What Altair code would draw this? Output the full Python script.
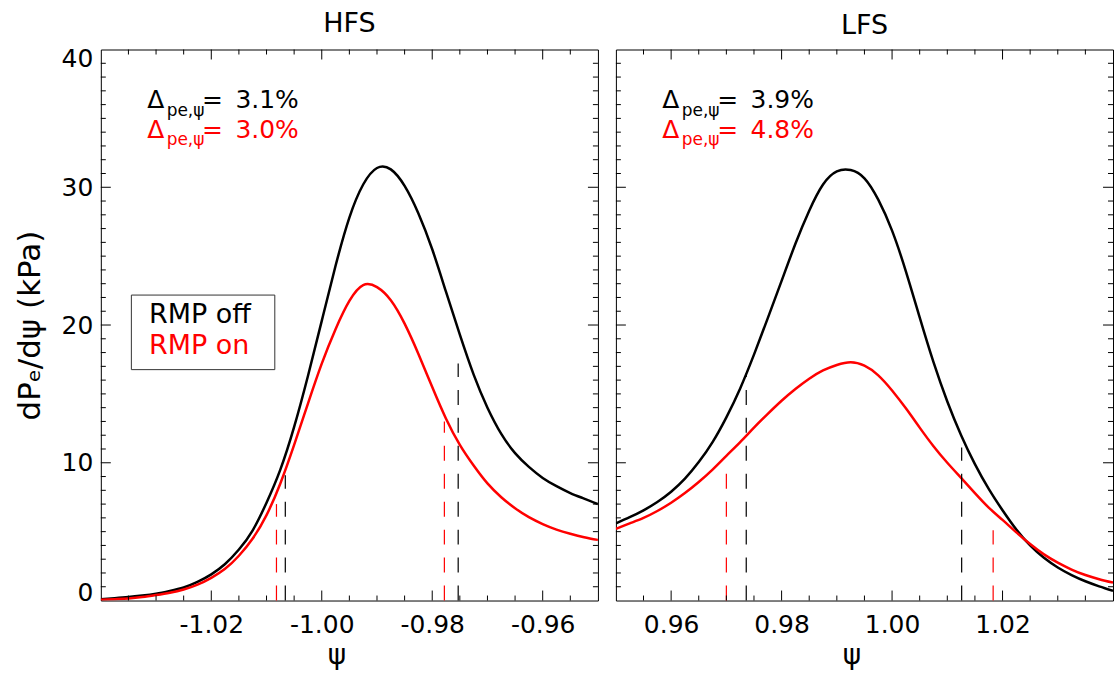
import altair as alt
import pandas as pd

# ---------------- data ----------------
hfs_x = [-1.0400, -1.0375, -1.0350, -1.0325, -1.0300, -1.0275, -1.0250, -1.0225, -1.0200,
         -1.0175, -1.0150, -1.0125, -1.0100, -1.0075, -1.0050, -1.0025, -1.0000, -0.9975,
         -0.9950, -0.9925, -0.9900, -0.9875, -0.9850, -0.9825, -0.9800, -0.9775, -0.9750,
         -0.9725, -0.9700, -0.9675, -0.9650, -0.9625, -0.9600, -0.9575, -0.9550, -0.9525,
         -0.9500]
hfs_off = [0.10, 0.17, 0.25, 0.36, 0.50, 0.70, 0.95, 1.35, 1.90,
           2.65, 3.70, 5.10, 7.10, 9.50, 12.60, 16.30, 20.30, 24.30,
           27.80, 30.20, 31.40, 31.30, 30.10, 28.10, 25.50, 22.40, 19.30,
           16.40, 14.00, 12.10, 10.70, 9.70, 8.90, 8.30, 7.80, 7.40,
           7.00]
hfs_on = [0.05, 0.10, 0.15, 0.25, 0.40, 0.57, 0.80, 1.15, 1.65,
          2.30, 3.25, 4.50, 6.20, 8.50, 11.30, 14.30, 17.20, 19.70,
          21.75, 22.90, 22.75, 21.80, 20.10, 17.90, 15.50, 13.20, 11.30,
          9.80, 8.50, 7.50, 6.70, 6.05, 5.55, 5.15, 4.85, 4.60,
          4.40]

lfs_x = [0.9500, 0.9525, 0.9550, 0.9575, 0.9600, 0.9625, 0.9650, 0.9675, 0.9700,
         0.9725, 0.9750, 0.9775, 0.9800, 0.9825, 0.9850, 0.9875, 0.9900, 0.9925,
         0.9950, 0.9975, 1.0000, 1.0025, 1.0050, 1.0075, 1.0100, 1.0125, 1.0150,
         1.0175, 1.0200, 1.0225, 1.0250, 1.0275, 1.0300, 1.0325, 1.0350, 1.0375,
         1.0400]
lfs_off = [5.60, 6.05, 6.55, 7.15, 7.90, 8.85, 10.05, 11.50, 13.30,
           15.40, 17.85, 20.50, 23.20, 25.90, 28.30, 30.20, 31.15, 31.25,
           30.65, 29.10, 26.85, 23.90, 20.55, 17.30, 14.45, 12.00, 9.90,
           8.10, 6.55, 5.15, 4.00, 3.10, 2.40, 1.85, 1.40, 1.03,
           0.70]
lfs_on = [5.20, 5.60, 6.00, 6.50, 7.10, 7.80, 8.60, 9.50, 10.50,
          11.50, 12.55, 13.55, 14.50, 15.35, 16.10, 16.70, 17.10, 17.30,
          17.05, 16.35, 15.25, 13.95, 12.55, 11.20, 10.00, 8.90, 7.80,
          6.75, 5.85, 4.95, 4.10, 3.35, 2.75, 2.25, 1.85, 1.55,
          1.30]

# dashed pedestal-width markers: position, height, series
hfs_dash_x = [-1.0082, -1.0066, -0.9778, -0.9753]
hfs_dash_top = [7.0, 9.1, 13.0, 17.2]
hfs_dash_series = ["on", "off", "on", "off"]
lfs_dash_x = [0.9700, 0.9736, 1.0126, 1.0183]
lfs_dash_top = [9.2, 16.5, 11.1, 5.1]
lfs_dash_series = ["on", "off", "off", "on"]

hfs_delta = ["3.1%", "3.0%"]
lfs_delta = ["3.9%", "4.8%"]

hfs_xticks = [-1.02, -1.00, -0.98, -0.96]
hfs_xminor = [-1.035, -1.030, -1.025, -1.015, -1.010, -1.005, -0.995, -0.990,
              -0.985, -0.975, -0.970, -0.965, -0.955]
lfs_xticks = [0.96, 0.98, 1.00, 1.02]
lfs_xminor = [0.955, 0.965, 0.970, 0.975, 0.985, 0.990, 0.995, 1.005, 1.010,
              1.015, 1.025, 1.030, 1.035]
y_ticks = [0, 10, 20, 30, 40]
y_inner_major = [10, 20, 30]
y_minor = [1, 2, 3, 4, 5, 6, 7, 8, 9, 11, 12, 13, 14, 15, 16, 17, 18, 19,
           21, 22, 23, 24, 25, 26, 27, 28, 29, 31, 32, 33, 34, 35, 36, 37, 38, 39]

# ---------------- styling ----------------
W, H = 498, 552
FONT = "DejaVu Sans"
COL = {"off": "#000000", "on": "#ff0000"}
MAJ, MIN = 10, 5


def panel(xs, off, on, xdom, xmajors, xminors, dash_x, dash_top, dash_series,
          deltas, title, left):
    df = pd.DataFrame({"psi": xs, "off": off, "on": on})
    xsc = alt.Scale(domain=xdom, nice=False, zero=False)
    ysc = alt.Scale(domain=[0, 40], nice=False, zero=False)

    x_lab = alt.Axis(orient="bottom", values=xmajors, ticks=False, domain=False,
                     grid=False,
                     labelExpr="(datum.value < 0 ? '-' : '') + format(abs(datum.value), '.2f')",
                     labelFont=FONT, labelFontSize=25, labelColor="black",
                     labelPadding=12, labelFlush=False,
                     title="ψ", titleFont=FONT, titleFontSize=28,
                     titleFontWeight="normal", titleColor="black",
                     titlePadding=4, titleX=236)
    if left:
        y_lab = alt.Axis(orient="left", values=y_ticks, ticks=False, domain=False,
                         grid=False, labelFont=FONT, labelFontSize=25,
                         labelColor="black", labelPadding=8,
                         labelOffset={"condition": [
                             {"test": "datum.value == 40", "value": 9},
                             {"test": "datum.value == 0", "value": -8}], "value": 0},
                         title="dPₑ/dψ (kPa)", titleFont=FONT, titleFontSize=31,
                         titleFontWeight="normal", titleColor="black",
                         titlePadding=15)
    else:
        y_lab = None

    black = alt.Chart(df).mark_line(color=COL["off"], strokeWidth=2.5,
                                    interpolate="natural", clip=True).encode(
        x=alt.X("psi:Q", scale=xsc, axis=x_lab),
        y=alt.Y("off:Q", scale=ysc, axis=y_lab),
    )
    red = alt.Chart(df).mark_line(color=COL["on"], strokeWidth=2.5,
                                  interpolate="natural", clip=True).encode(
        x=alt.X("psi:Q", scale=xsc, axis=None),
        y=alt.Y("on:Q", scale=ysc, axis=None),
    )

    # inward ticks on all four sides, placed through the scales
    def xt(vals, length):
        d = pd.DataFrame({"t": vals})
        bot = alt.Chart(d).mark_rule(color="black", strokeWidth=1).encode(
            x=alt.X("t:Q", scale=xsc, axis=None),
            y=alt.value(H), y2=alt.value(H - length))
        top = alt.Chart(d).mark_rule(color="black", strokeWidth=1).encode(
            x=alt.X("t:Q", scale=xsc, axis=None),
            y=alt.value(0), y2=alt.value(length))
        return [bot, top]

    def yt(vals, length):
        d = pd.DataFrame({"t": vals})
        lft = alt.Chart(d).mark_rule(color="black", strokeWidth=1).encode(
            y=alt.Y("t:Q", scale=ysc, axis=None),
            x=alt.value(0), x2=alt.value(length))
        rgt = alt.Chart(d).mark_rule(color="black", strokeWidth=1).encode(
            y=alt.Y("t:Q", scale=ysc, axis=None),
            x=alt.value(W), x2=alt.value(W - length))
        return [lft, rgt]

    ticks = xt(xmajors, MAJ) + xt(xminors, MIN) + yt(y_inner_major, MAJ) + yt(y_minor, MIN)

    ddf = pd.DataFrame({"psi": dash_x, "top": dash_top,
                        "base": [0] * len(dash_x),
                        "col": [COL[s] for s in dash_series]})
    dashes = alt.Chart(ddf).mark_rule(strokeDash=[15, 13], strokeWidth=1.2).encode(
        x=alt.X("psi:Q", scale=xsc, axis=None),
        y=alt.Y("base:Q", scale=ysc, axis=None),
        y2="top:Q",
        color=alt.Color("col:N", scale=None),
    )

    # annotation  Δ_{pe,ψ}=  value   (anchored in data coordinates)
    ax = xdom[0] + 0.0084
    adf = pd.DataFrame({"psi": [ax, ax], "y": [35.72, 33.6], "val": deltas,
                        "col": [COL["off"], COL["on"]]})
    abase = alt.Chart(adf).encode(
        x=alt.X("psi:Q", scale=xsc, axis=None),
        y=alt.Y("y:Q", scale=ysc, axis=None),
        color=alt.Color("col:N", scale=None))
    common = dict(align="left", baseline="alphabetic", font=FONT)
    d1 = abase.mark_text(text="Δ", fontSize=25, **common)
    d2 = abase.mark_text(text="pe,ψ", fontSize=17, dx=19.5, dy=7.7, **common)
    d3 = abase.mark_text(text="=", fontSize=25, dx=55, **common)
    d4 = abase.mark_text(fontSize=25, dx=88.4, **common).encode(text="val:N")

    layers = [black, red, dashes] + ticks + [d1, d2, d3, d4]

    if left:
        box = alt.Chart(pd.DataFrame({"k": [0]})).mark_rect(
            fill="white", stroke="#333333", strokeWidth=1).encode(
            x=alt.value(30.6), x2=alt.value(174.3),
            y=alt.value(246), y2=alt.value(320.7))
        leg = alt.Chart(pd.DataFrame({"t": ["RMP off", "RMP on"],
                                      "col": [COL["off"], COL["on"]],
                                      "py": [266, 296.7]})).mark_text(
            align="left", baseline="middle", font=FONT, fontSize=27).encode(
            x=alt.value(48.3), y=alt.Y("py:Q", scale=None, axis=None),
            text="t:N", color=alt.Color("col:N", scale=None))
        layers = layers + [box, leg]

    return alt.layer(*layers).resolve_axis(x="independent", y="independent").properties(
        width=W, height=H,
        title=alt.Title(title, font=FONT, fontSize=27, fontWeight="normal",
                        color="black", offset=9))


left = panel(hfs_x, hfs_off, hfs_on, [-1.04, -0.95], hfs_xticks, hfs_xminor,
             hfs_dash_x, hfs_dash_top, hfs_dash_series, hfs_delta, "HFS", True)
right = panel(lfs_x, lfs_off, lfs_on, [0.95, 1.04], lfs_xticks, lfs_xminor,
              lfs_dash_x, lfs_dash_top, lfs_dash_series, lfs_delta, "LFS", False)

chart = alt.hconcat(left, right, spacing=16).properties(
    padding={"left": 13, "top": 8, "right": 0, "bottom": 0},
    background="white",
).configure_view(stroke="black", strokeWidth=1)

chart.save("out.html", embed_options={"renderer": "svg", "actions": False})
